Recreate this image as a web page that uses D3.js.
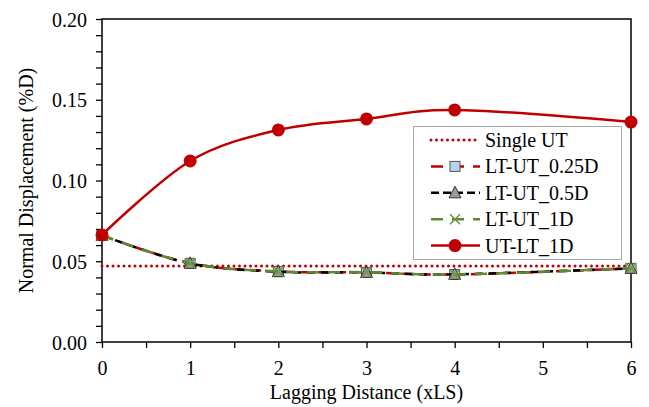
<!DOCTYPE html>
<html>
<head>
<meta charset="utf-8">
<script src="https://cdn.jsdelivr.net/npm/d3@7"></script>
<style>
  body { margin: 0; background: #fff; }
</style>
</head>
<body>
<svg id="chart"></svg>
<script>
// data
let xValues = [0, 1, 2, 3, 4, 6];
let singleUT = 0.047;
let ltUt025 = [0.066, 0.0487, 0.0437, 0.0431, 0.0418, 0.0456];
let ltUt05 = [0.066, 0.0487, 0.0435, 0.0431, 0.0419, 0.0456];
let ltUt1 = [0.066, 0.0487, 0.0436, 0.0432, 0.0418, 0.0457];
let utLt1 = [0.0663, 0.1121, 0.1313, 0.1381, 0.1437, 0.1362];
let xTicks = [0, 1, 2, 3, 4, 5, 6];
let yTicks = [0, 0.05, 0.10, 0.15, 0.20];
let legendLabels = ["Single UT", "LT-UT_0.25D", "LT-UT_0.5D", "LT-UT_1D", "UT-LT_1D"];

const FONT = "Times New Roman, Liberation Serif, DejaVu Serif, serif";
const FONT_SIZE = 20;

function getConfig(){
    let width = 649;
    let height = 407;
    let margin = { top: 19, bottom: 65, left: 102, right: 18 };
    let bodyWidth = width - margin.left - margin.right;
    let bodyHeight = height - margin.top - margin.bottom;
    let container = d3.select('#chart')
        .attr('width', width)
        .attr('height', height)
        .style('font-family', FONT);
    return { width, height, margin, bodyWidth, bodyHeight, container };
}

function getScales(config){
    let xScale = d3.scaleLinear().domain([0, 6]).range([0, config.bodyWidth]);
    let yScale = d3.scaleLinear().domain([0, 0.2]).range([config.bodyHeight, 0]);
    return { xScale, yScale };
}

function styleText(sel){
    return sel.attr('font-family', FONT).style('font-family', FONT).attr('font-size', FONT_SIZE);
}

function drawAxes(scales, config){
    let { xScale, yScale } = scales;
    let { container, margin, bodyWidth, bodyHeight } = config;

    let body = container.append('g')
        .attr('transform', `translate(${margin.left},${margin.top})`);

    // minor ticks
    let xMinor = d3.range(0.5, 6, 1);
    body.append('g')
        .attr('transform', `translate(0,${bodyHeight})`)
        .call(d3.axisBottom(xScale).tickValues(xMinor).tickSize(6).tickFormat(''))
        .call(g => g.select('.domain').remove());
    let yMinor = d3.range(0.01, 0.2, 0.01).filter(v => Math.abs(v * 20 - Math.round(v * 20)) > 1e-6);
    body.append('g')
        .call(d3.axisLeft(yScale).tickValues(yMinor).tickSize(6).tickFormat(''))
        .call(g => g.select('.domain').remove());

    let axisX = d3.axisBottom(xScale).tickValues(xTicks).tickSize(6).tickSizeOuter(0).tickPadding(13)
        .tickFormat(d3.format('d'));
    body.append('g')
        .attr('transform', `translate(0,${bodyHeight})`)
        .call(axisX)
        .call(g => g.select('.domain').remove())
        .call(g => styleText(g))
        .selectAll('text').attr('fill', '#000').call(styleText);

    let axisY = d3.axisLeft(yScale).tickValues(yTicks).tickSize(6).tickSizeOuter(0).tickPadding(9)
        .tickFormat(d3.format('.2f'));
    body.append('g')
        .call(axisY)
        .call(g => g.select('.domain').remove())
        .call(g => styleText(g))
        .selectAll('text').attr('fill', '#000').attr('dy', '0.35em').call(styleText);

    body.selectAll('.tick line').attr('stroke', '#000').attr('stroke-width', 1.3);

    // frame
    body.append('rect')
        .attr('width', bodyWidth).attr('height', bodyHeight)
        .attr('fill', 'none').attr('stroke', '#000').attr('stroke-width', 1.5);

    container.append('text')
        .attr('x', margin.left + bodyWidth / 2)
        .attr('y', 399)
        .attr('text-anchor', 'middle')
        .call(styleText)
        .text('Lagging Distance (xLS)');

    container.append('text')
        .attr('transform', `translate(33,${margin.top + bodyHeight / 2}) rotate(-90)`)
        .attr('text-anchor', 'middle')
        .call(styleText)
        .text('Normal Displacement (%D)');

    return body;
}

function drawMarker(g, type, x, y){
    if (type === 'square') {
        g.append('rect').attr('x', x - 5).attr('y', y - 5).attr('width', 10).attr('height', 10)
            .attr('fill', '#b8d4ea').attr('stroke', '#555').attr('stroke-width', 1);
    } else if (type === 'triangle') {
        g.append('path').attr('d', `M${x},${y - 6.5}L${x + 6},${y + 5}L${x - 6},${y + 5}Z`)
            .attr('fill', '#9a9a9a').attr('stroke', '#333').attr('stroke-width', 1);
    } else if (type === 'x') {
        g.append('path').attr('d', `M${x - 5},${y - 5}L${x + 5},${y + 5}M${x - 5},${y + 5}L${x + 5},${y - 5}`)
            .attr('stroke', '#6a9a3a').attr('stroke-width', 1.5).attr('fill', 'none');
    } else if (type === 'circle') {
        g.append('circle').attr('cx', x).attr('cy', y).attr('r', 6.5).attr('fill', '#c00000');
    }
}

function drawLines(body, scales){
    let { xScale, yScale } = scales;
    let curve = d3.curveCardinal.tension(0);
    let line = d3.line().x(d => xScale(d[0])).y(d => yScale(d[1])).curve(curve);

    let series = [
        { values: ltUt025, color: '#c00000', dash: '11,6', marker: 'square' },
        { values: ltUt05, color: '#000', dash: '8,6', marker: 'triangle' },
        { values: ltUt1, color: '#5e8a35', dash: '12,9', marker: 'x' },
        { values: utLt1, color: '#c00000', dash: null, marker: 'circle' }
    ];

    // single UT reference line
    body.append('line')
        .attr('x1', xScale(0)).attr('x2', xScale(6))
        .attr('y1', yScale(singleUT)).attr('y2', yScale(singleUT))
        .attr('stroke', '#c00000').attr('stroke-width', 3)
        .attr('stroke-dasharray', '0,5.5').attr('stroke-linecap', 'round');

    series.forEach(s => {
        let pts = xValues.map((x, i) => [x, s.values[i]]);
        body.append('path')
            .attr('d', line(pts))
            .attr('fill', 'none')
            .attr('stroke', s.color)
            .attr('stroke-width', 2.5)
            .attr('stroke-dasharray', s.dash);
        let mg = body.append('g');
        pts.forEach(p => drawMarker(mg, s.marker, xScale(p[0]), yScale(p[1])));
    });
}

function drawLegend(config){
    let { container } = config;
    let lg = container.append('g');
    lg.append('rect')
        .attr('x', 413.5).attr('y', 126.5).attr('width', 208).attr('height', 133)
        .attr('fill', '#fff').attr('stroke', '#a6a6a6').attr('stroke-width', 1);

    let styles = [
        { color: '#c00000', dash: '0,5.5', marker: null },
        { color: '#c00000', dash: '12,9', marker: 'square' },
        { color: '#000', dash: '8,4', marker: 'triangle' },
        { color: '#5e8a35', dash: '12,9', marker: 'x' },
        { color: '#c00000', dash: null, marker: 'circle' }
    ];

    legendLabels.forEach((label, i) => {
        let y = 140 + i * 26.4;
        let st = styles[i];
        lg.append('line')
            .attr('x1', 431).attr('x2', 480).attr('y1', y).attr('y2', y)
            .attr('stroke', st.color).attr('stroke-width', st.marker === null ? 3 : 2.5)
            .attr('stroke-dasharray', st.dash)
            .attr('stroke-linecap', st.marker === null ? 'round' : 'butt');
        if (st.marker) drawMarker(lg, st.marker, 455, y);
        lg.append('text')
            .attr('x', 485).attr('y', y).attr('dy', '0.35em')
            .call(styleText)
            .text(label);
    });
}

function drawChart(){
    let config = getConfig();
    let scales = getScales(config);
    let body = drawAxes(scales, config);
    drawLines(body, scales);
    drawLegend(config);
}

drawChart();
</script>
</body>
</html>
